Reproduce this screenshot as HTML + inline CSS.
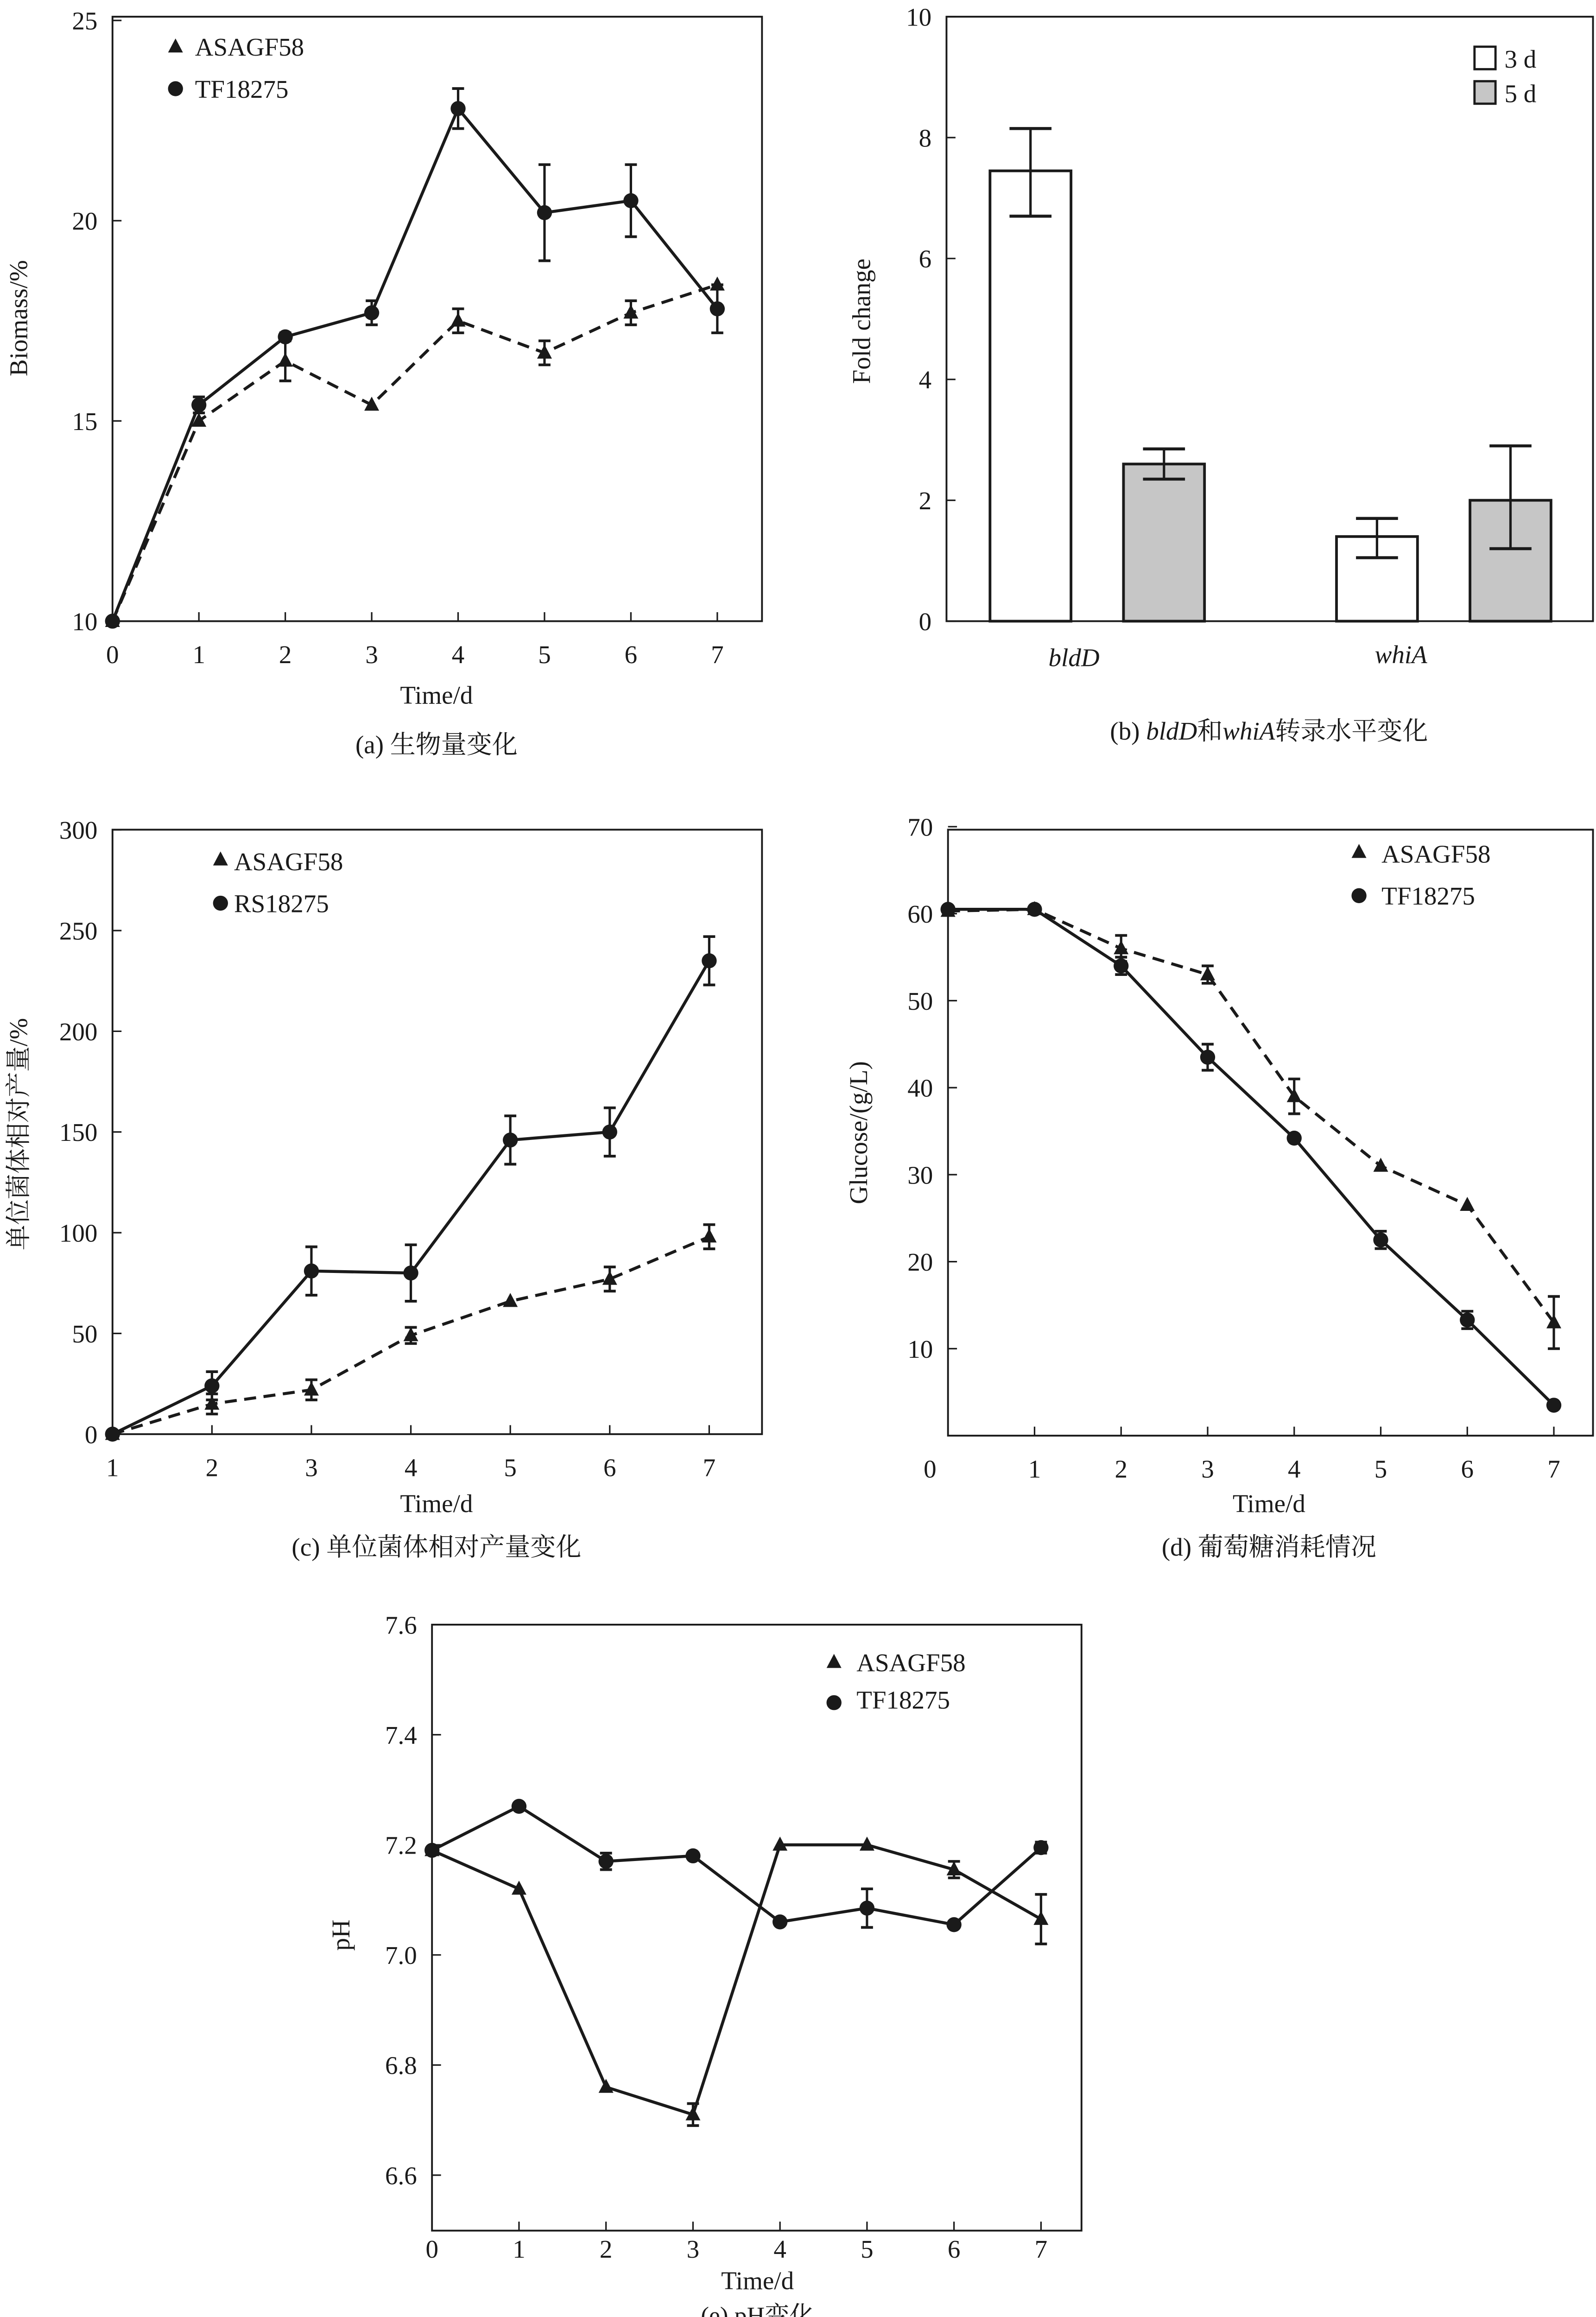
<!DOCTYPE html>
<html><head><meta charset="utf-8"><style>
html,body{margin:0;padding:0;background:#fff;width:3444px;height:5073px;overflow:hidden;}
svg{display:block;overflow:hidden;}
text{font-family:"Liberation Serif","Noto Serif CJK SC",serif;fill:#1a1a1a;}
</style></head><body>
<svg id="s" width="3444" height="5073" viewBox="0 0 1064 1567" xmlns="http://www.w3.org/2000/svg"></svg>
<script>
const S=document.getElementById('s');let h='';
function T(x,y,t,o){o=o||{};h+=`<text x="${x}" y="${y}" font-size="${o.fs||17}" text-anchor="${o.a||'middle'}" ${o.tr?'transform="'+o.tr+'"':''} ${o.it?'font-style="italic"':''}>${t}</text>`;}
function L(x1,y1,x2,y2,w,d){h+=`<line x1="${x1}" y1="${y1}" x2="${x2}" y2="${y2}" stroke="#1a1a1a" stroke-width="${w||1.3}" ${d?'stroke-dasharray="'+d+'"':''}/>`;}
function tri(x,y,r){r=r||5.5;h+=`<polygon points="${x},${y-r} ${x-r*0.9},${y+r*0.7} ${x+r*0.9},${y+r*0.7}" fill="#1a1a1a"/>`;}
function cir(x,y,r){h+=`<circle cx="${x}" cy="${y}" r="${r||5}" fill="#1a1a1a"/>`;}
function box(l,t,r,b){h+=`<rect x="${l}" y="${t}" width="${r-l}" height="${b-t}" fill="none" stroke="#1a1a1a" stroke-width="1.2"/>`;}
function eb(x,y1,y2){L(x,y1,x,y2,1.6);L(x-4,y1,x+4,y1,1.8);L(x-4,y2,x+4,y2,1.8);}
function series(X,Y,data,mk,dash){let p=data.map(d=>[X(d[0]),Y(d[1])]);
 h+=`<polyline points="${p.map(q=>q.join(',')).join(' ')}" fill="none" stroke="#1a1a1a" stroke-width="2" ${dash?'stroke-dasharray="8,5"':''}/>`;
 data.forEach(d=>{if(d[2])eb(X(d[0]),Y(d[1]+d[2]),Y(d[1]-d[2]));mk(X(d[0]),Y(d[1]));});}
function xt(X,b,vals,off){vals.forEach(v=>{L(X(v),b,X(v),b-6,1);T(X(v),b+(off||28),v);});}
function yt(Y,l,vals,f){vals.forEach(v=>{L(l,Y(v),l+6,Y(v),1);T(l-10,Y(v)+6,f?f(v):v,{a:'end'});});}

// (a)
{let X=v=>75+v*57.6,Y=v=>414-(v-10)*26.7;box(75,11,508,414);
xt(X,414,[0,1,2,3,4,5,6,7]);yt(Y,75,[10,15,20,25]);
series(X,Y,[[0,10],[1,15],[2,16.5,0.5],[3,15.4],[4,17.5,0.3],[5,16.7,0.3],[6,17.7,0.3],[7,18.4]],tri,true);
series(X,Y,[[0,10],[1,15.4,0.2],[2,17.1,0.1],[3,17.7,0.3],[4,22.8,0.5],[5,20.2,1.2],[6,20.5,0.9],[7,17.8,0.6]],cir,false);
tri(117,31);T(130,37,'ASAGF58',{a:'start'});cir(117,59);T(130,65,'TF18275',{a:'start'});
T(18,212,'Biomass/%',{tr:'rotate(-90 18 212)'});T(291,469,'Time/d');T(291,502,'(a) 生物量变化');}

// (b)
{let Y=v=>414-v*40.3;box(631,11,1062,414);yt(Y,631,[0,2,4,6,8,10]);
[[660,7.45,6.7,8.15,'#fff'],[749,2.6,2.35,2.85,'#c6c6c6'],[891,1.4,1.05,1.7,'#fff'],[980,2.0,1.2,2.9,'#c6c6c6']].forEach(b=>{
 h+=`<rect x="${b[0]}" y="${Y(b[1])}" width="54" height="${414-Y(b[1])}" fill="${b[4]}" stroke="#1a1a1a" stroke-width="1.8"/>`;
 let c=b[0]+27;L(c,Y(b[2]),c,Y(b[3]),1.6);L(c-14,Y(b[2]),c+14,Y(b[2]),2);L(c-14,Y(b[3]),c+14,Y(b[3]),2);});
h+=`<rect x="983" y="31" width="14" height="15" fill="#fff" stroke="#1a1a1a" stroke-width="1.5"/><rect x="983" y="54" width="14" height="15" fill="#c6c6c6" stroke="#1a1a1a" stroke-width="1.5"/>`;
T(1003,45,'3 d',{a:'start'});T(1003,68,'5 d',{a:'start'});
T(580,214,'Fold change',{tr:'rotate(-90 580 214)'});T(716,444,'bldD',{it:1});T(934,442,'whiA',{it:1});
h+=`<text x="846" y="493" font-size="17" text-anchor="middle">(b) <tspan font-style="italic">bldD</tspan>和<tspan font-style="italic">whiA</tspan>转录水平变化</text>`;}

// (c)
{let X=v=>75+(v-1)*66.3,Y=v=>956-v*1.343;box(75,553,508,956);
xt(X,956,[1,2,3,4,5,6,7]);yt(Y,75,[0,50,100,150,200,250,300]);
series(X,Y,[[1,0],[2,15,5],[3,22,5],[4,49,4],[5,66],[6,77,6],[7,98,6]],tri,true);
series(X,Y,[[1,0],[2,24,7],[3,81,12],[4,80,14],[5,146,12],[6,150,12],[7,235,12]],cir,false);
tri(147,573);T(156,580,'ASAGF58',{a:'start'});cir(147,602);T(156,608,'RS18275',{a:'start'});
T(18,756,'单位菌体相对产量/%',{tr:'rotate(-90 18 756)'});T(291,1008,'Time/d');T(291,1037,'(c) 单位菌体相对产量变化');}

// (d)
{let X=v=>632+v*57.7,Y=v=>957-v*5.8;box(632,553,1062,957);
[1,2,3,4,5,6,7].forEach(v=>{L(X(v),957,X(v),951,1);T(X(v),985,v);});T(620,985,'0');
yt(Y,632,[10,20,30,40,50,60,70]);
series(X,Y,[[0,60.3],[1,60.5],[2,56,1.5],[3,53,1],[4,39,2],[5,31],[6,26.5],[7,13,3]],tri,true);
series(X,Y,[[0,60.5],[1,60.5],[2,54,1],[3,43.5,1.5],[4,34.2],[5,22.5,1],[6,13.3,1],[7,3.5]],cir,false);
tri(906,568);T(921,575,'ASAGF58',{a:'start'});cir(906,597);T(921,603,'TF18275',{a:'start'});
T(578,755,'Glucose/(g/L)',{tr:'rotate(-90 578 755)'});T(846,1008,'Time/d');T(846,1037,'(d) 葡萄糖消耗情况');}

// (e)
{let X=v=>288+v*58,Y=v=>1083+(7.6-v)*367;box(288,1083,721,1487);
xt(X,1487,[0,1,2,3,4,5,6,7],18);yt(Y,288,[6.6,6.8,7.0,7.2,7.4,7.6],v=>v.toFixed(1));
series(X,Y,[[0,7.19],[1,7.12],[2,6.76],[3,6.71,0.02],[4,7.2],[5,7.2],[6,7.155,0.015],[7,7.065,0.045]],tri,false);
series(X,Y,[[0,7.19],[1,7.27],[2,7.17,0.015],[3,7.18],[4,7.06],[5,7.085,0.035],[6,7.055],[7,7.195,0.01]],cir,false);
tri(556,1108);T(571,1114,'ASAGF58',{a:'start'});cir(556,1135);T(571,1139,'TF18275',{a:'start'});
T(233,1290,'pH',{tr:'rotate(-90 233 1290)'});T(505,1526,'Time/d');T(505,1549,'(e) pH变化',{fs:16.5});}
S.innerHTML=h;
</script>
</body></html>
